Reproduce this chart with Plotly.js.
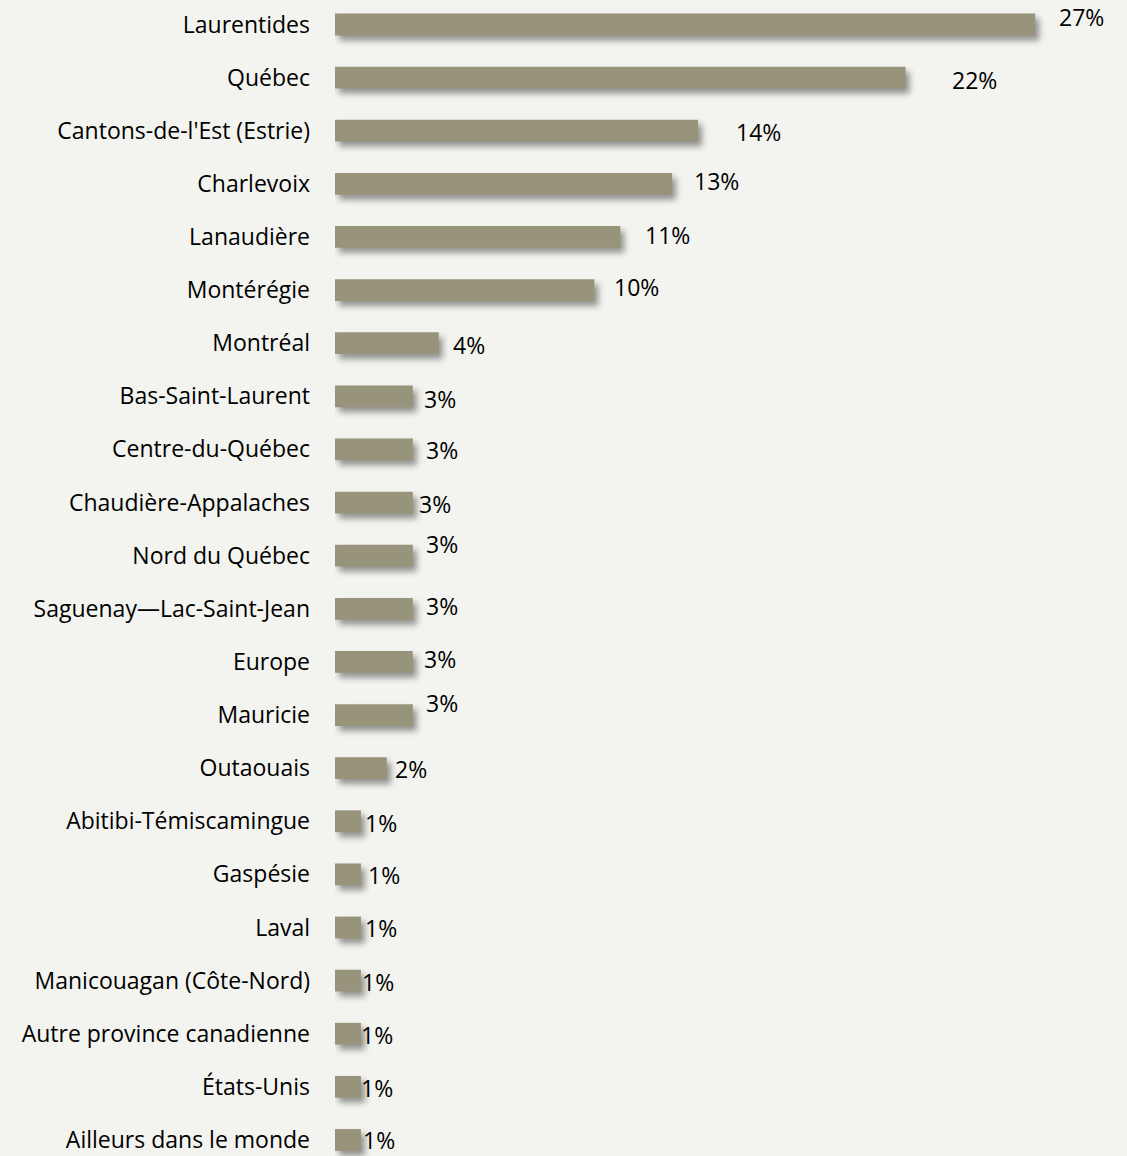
<!DOCTYPE html>
<html><head><meta charset="utf-8">
<script src="https://cdn.plot.ly/plotly-3.0.1.min.js"></script>
<style>
html,body{margin:0;padding:0;background:#f3f4ef;}
#chart{width:1127px;height:1156px;}
.barlayer .point path{filter:drop-shadow(4px 5px 3px rgba(0,0,0,0.4));}
</style></head><body><div id="chart"></div>
<script>
const regions = ["Laurentides","Québec","Cantons-de-l'Est (Estrie)","Charlevoix","Lanaudière","Montérégie","Montréal","Bas-Saint-Laurent","Centre-du-Québec","Chaudière-Appalaches","Nord du Québec","Saguenay—Lac-Saint-Jean","Europe","Mauricie","Outaouais","Abitibi-Témiscamingue","Gaspésie","Laval","Manicouagan (Côte-Nord)","Autre province canadienne","États-Unis","Ailleurs dans le monde"];
const shares = [27,22,14,13,11,10,4,3,3,3,3,3,3,3,2,1,1,1,1,1,1,1];
const shareLabels = shares.map(v => v + "%");
// label placement offsets (style)
const labelDx = [46,69,60,44,47,42,30,27,29,22.5,29,29,27,29,24,20,23,20,17,16,16,18];
const labelDy = [7,-2,-1,3,2,3,-2,-3,-1,-1,12,3,3,12,-1,-2,-1,-1,-1,-1.5,-1,0];

const font = {family:"Open Sans, sans-serif", size:23, color:"#000"};
const trace = {
  type:"bar", orientation:"h", x:shares, y:regions,
  marker:{color:"#98937b", line:{width:0}},
  width:0.41, hoverinfo:"none"
};
const annotations = shares.map((v,i)=>({
  x:v, y:regions[i], xref:"x", yref:"y", text:shareLabels[i], showarrow:false,
  xanchor:"center", yanchor:"middle", xshift:labelDx[i], yshift:labelDy[i], font:font
}));
const layout = {
  width:1127, height:1156, margin:{l:335,r:0,t:0,b:0},
  paper_bgcolor:"#f3f4ef", plot_bgcolor:"#f3f4ef",
  showlegend:false,
  xaxis:{range:[0,30.54], showgrid:false, zeroline:false, showticklabels:false, showline:false},
  yaxis:{type:"category", categoryorder:"array", categoryarray:regions, range:[21.302,-0.461],
         showgrid:false, zeroline:false, showline:false, ticks:"", ticklabelstandoff:24, tickfont:font},
  annotations:annotations
};
Plotly.newPlot("chart",[trace],layout,{displayModeBar:false,staticPlot:true});
</script></body></html>
